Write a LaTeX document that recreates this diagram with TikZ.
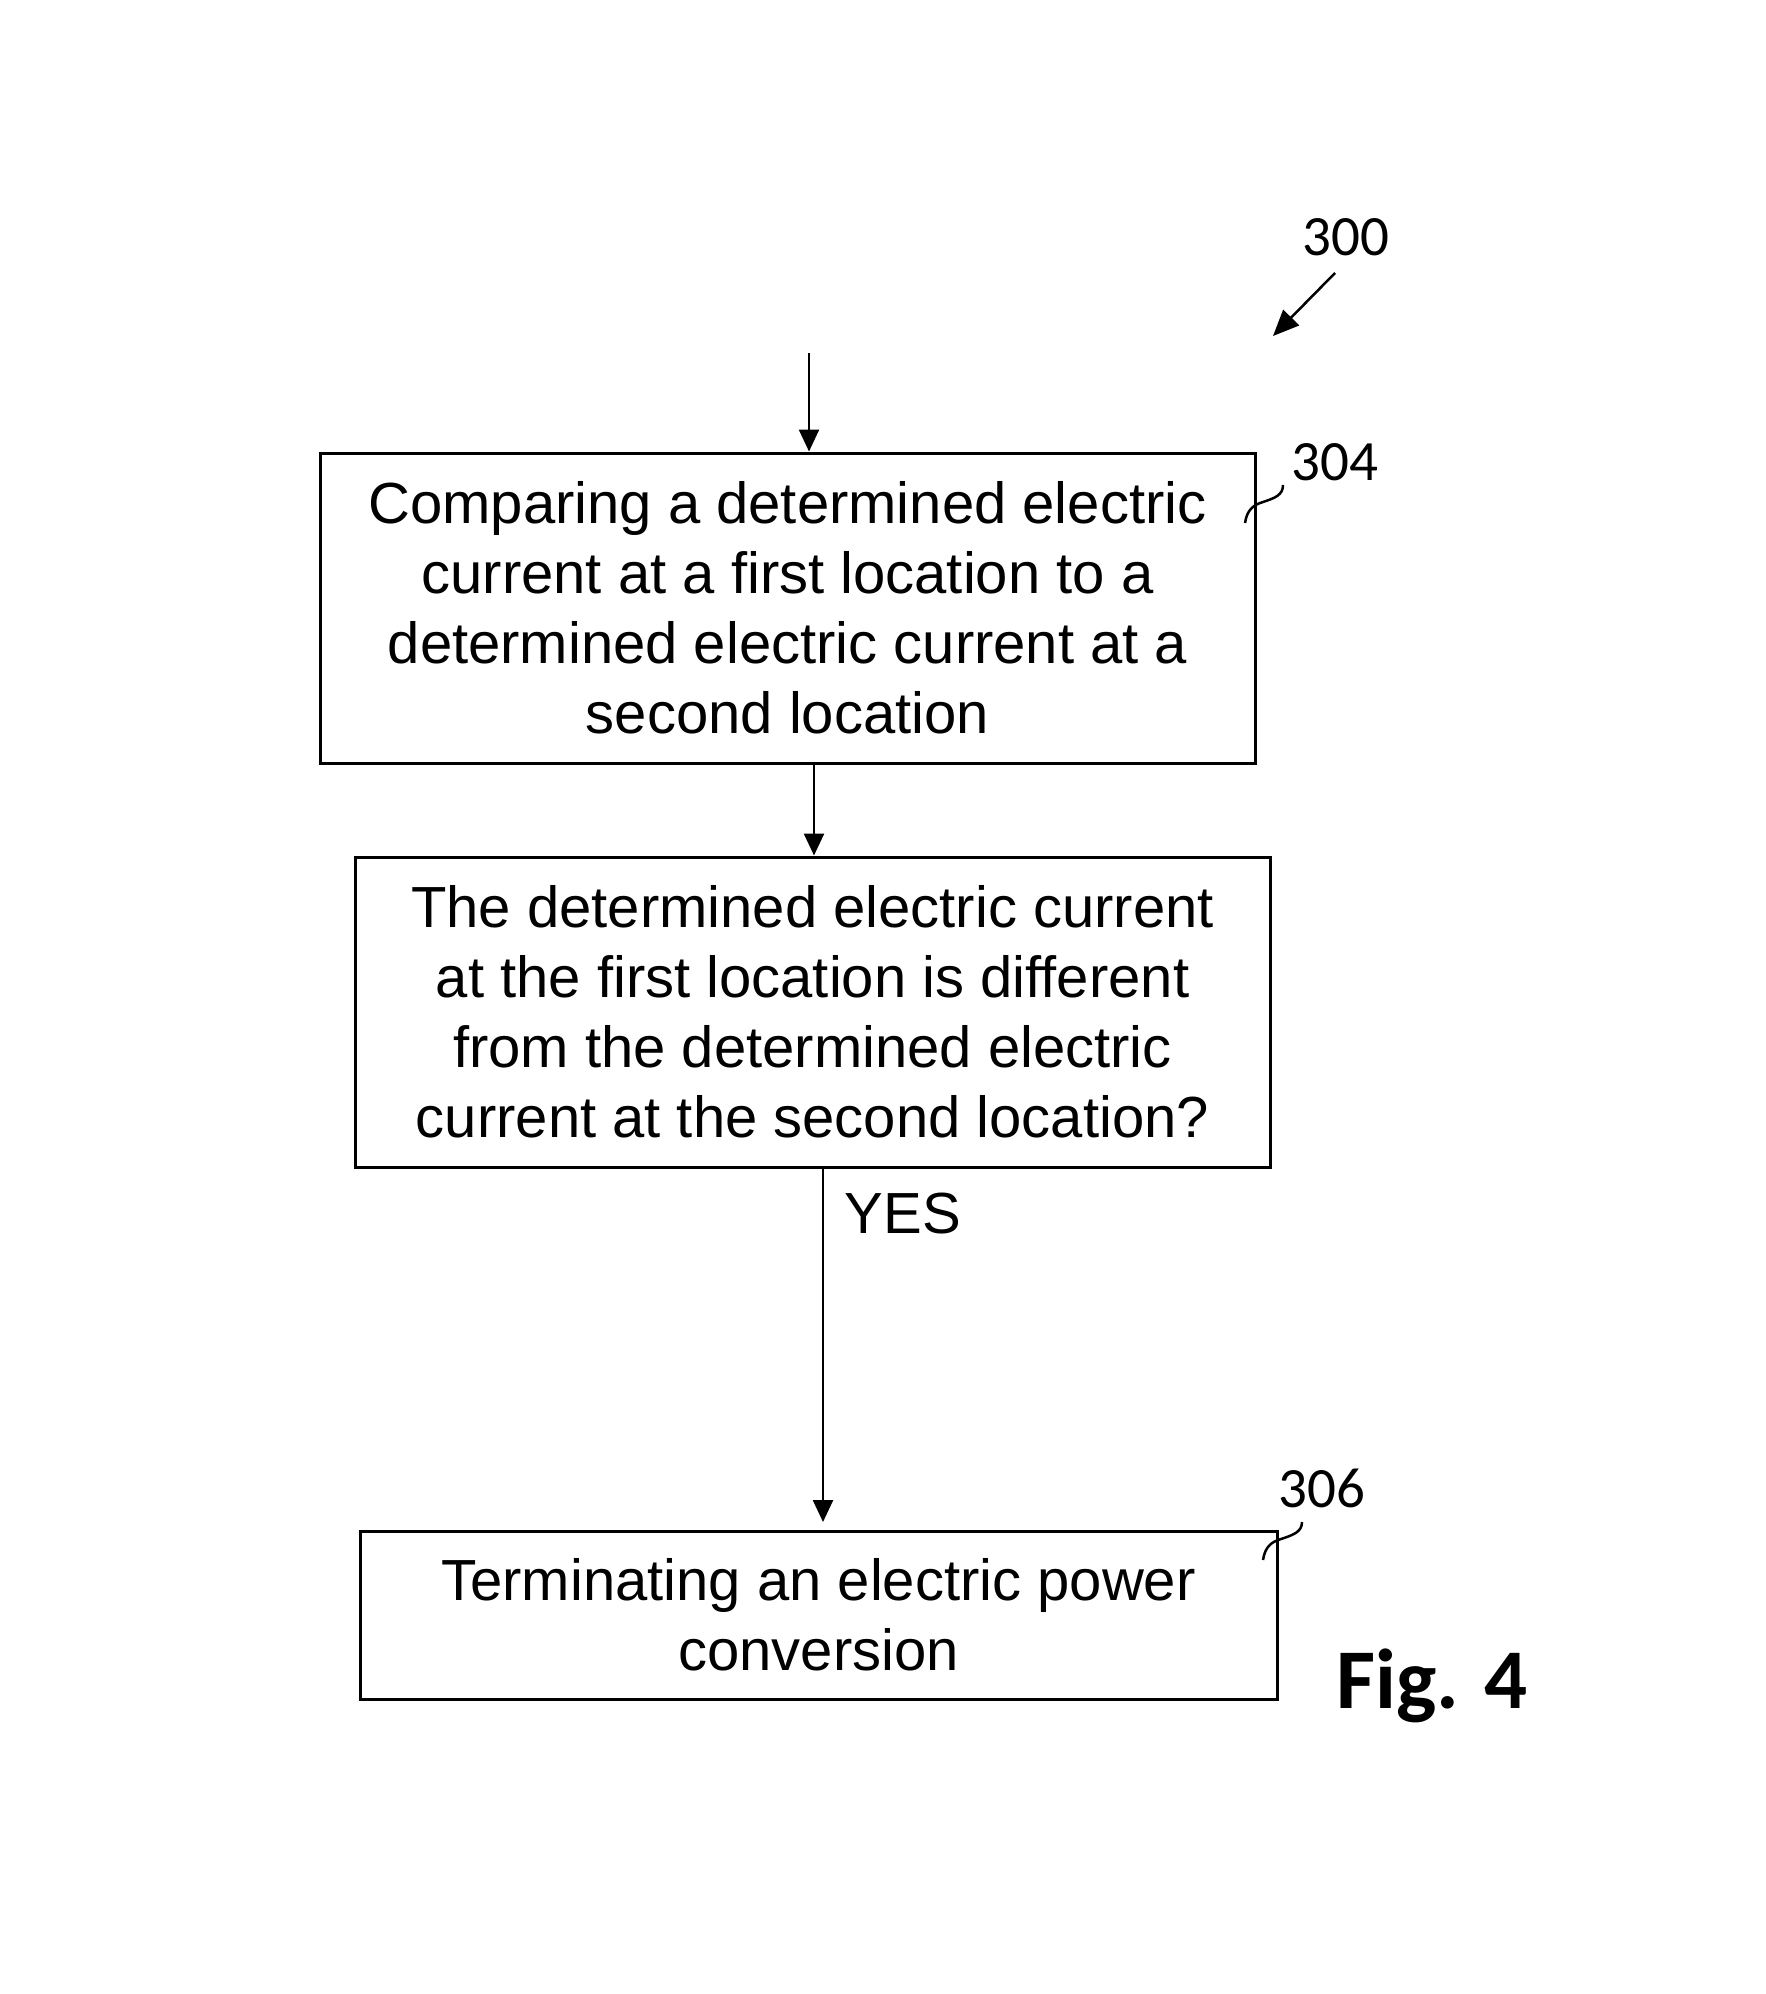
\documentclass[tikz,border=0pt]{standalone}
\usepackage{fontspec}
\setmainfont{Liberation Sans}
\newfontfamily\calfont{Carlito}
\usetikzlibrary{arrows.meta}
\begin{document}
\begin{tikzpicture}[x=1pt,y=-1pt,
  stepbox/.style={draw,line width=3pt,rectangle,align=center,inner sep=0pt,
    font=\fontsize{58}{70}\selectfont},
  arr/.style={line width=2.5pt,-{Triangle[length=22pt,width=20pt]}},
  refnum/.style={font=\calfont\fontsize{57}{60}\selectfont,anchor=base,inner sep=0pt},
  squig/.style={line width=2.5pt}]
\useasboundingbox (0,0) rectangle (1765,1994);
\fill[white] (0,0) rectangle (1765,1994);

\node[stepbox,minimum width=935pt,minimum height=310pt] (b1) at (787.5,608)
  {Comparing a determined electric\\current at a first location to a\\determined electric current at a\\second location};
\node[stepbox,minimum width=915pt,minimum height=310pt] (b2) at (812.5,1012)
  {The determined electric current\\at the first location is different\\from the determined electric\\current at the second location?};
\node[stepbox,minimum width=917pt,minimum height=168pt] (b3) at (818.5,1615)
  {Terminating an electric power\\conversion};

\coordinate (s0) at (809,353);
\coordinate (c1) at (814,0);
\coordinate (c2) at (823,0);
\coordinate (e3) at (823,1522);
\draw[arr] (s0) -- (s0 |- b1.north);
\draw[arr] (c1 |- b1.south) -- (c1 |- b2.north);
\draw[arr] (c2 |- b2.south) -- (e3);

\node[font=\fontsize{58}{70}\selectfont,anchor=base,inner sep=0pt] (yes) at (903,1233) {YES};

\node[refnum] (n300) at (1346,255) {300};
\coordinate (r0) at (1335,273);
\coordinate (r1) at (1273,336);
\draw[line width=2.5pt,-{Triangle[length=26pt,width=22pt]}] (r0) -- (r1);

\node[refnum] (n304) at (1335,480) {304};
\coordinate (q0) at (1245,523);
\coordinate (q1) at (1283,485);
\draw[squig] (q0) .. controls (1247,510) and (1253,505) .. (1263,502)
  .. controls (1275,498) and (1283,495) .. (q1);

\node[refnum] (n306) at (1322,1507) {306};
\coordinate (p0) at (1263,1560);
\coordinate (p1) at (1302,1522);
\draw[squig] (p0) .. controls (1265,1547) and (1271,1542) .. (1281,1539)
  .. controls (1293,1535) and (1302,1532) .. (p1);

\node[font=\calfont\bfseries\fontsize{85}{90}\selectfont,anchor=base,inner sep=0pt] (fig) at (1432,1708) {Fig. 4};
\end{tikzpicture}
\end{document}
